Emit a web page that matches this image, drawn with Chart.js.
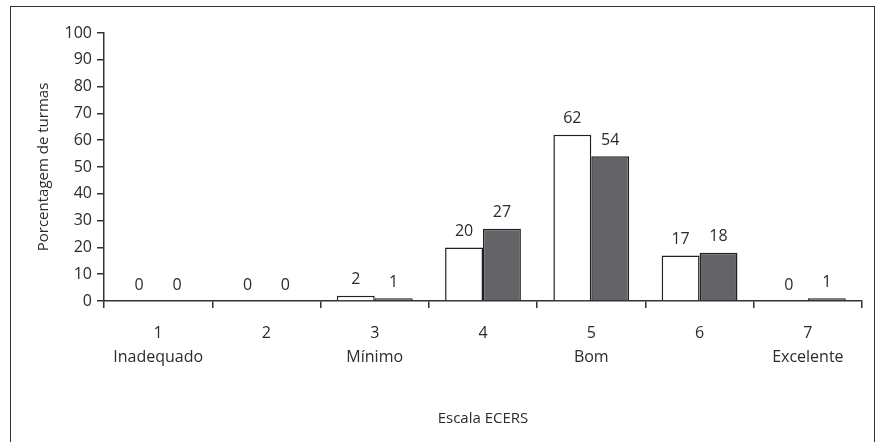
<!DOCTYPE html>
<html>
<head>
<meta charset="utf-8">
<script src="https://cdn.jsdelivr.net/npm/chart.js@4"></script>
<style>
  html, body { margin: 0; padding: 0; background: #fff; }
  #wrap { position: relative; width: 880px; height: 442px; }
  #frame {
    position: absolute; left: 10px; top: 6px; width: 865px; height: 440px;
    border: 1.5px solid #333; border-bottom: none; box-sizing: border-box;
    pointer-events: none;
  }
</style>
</head>
<body>
<div id="wrap">
  <canvas id="chart" width="880" height="442"></canvas>
  <div id="frame"></div>
</div>
<script>
// chart data
const categories = [['1', 'Inadequado'], '2', ['3', 'Mínimo'], '4', ['5', 'Bom'], '6', ['7', 'Excelente']];
const seriesWhite = [0, 0, 2, 20, 62, 17, 0];
const seriesGray = [0, 0, 1, 27, 54, 18, 1];
const yTicks = [0, 10, 20, 30, 40, 50, 60, 70, 80, 90, 100];

const FONT = '"Open Sans", "Liberation Sans", sans-serif';
const INK = '#2b2b2b';

// draw value labels above each bar
const valueLabels = {
  id: 'valueLabels',
  afterDatasetsDraw(chart) {
    const ctx = chart.ctx;
    ctx.save();
    ctx.font = '16px ' + FONT;
    ctx.fillStyle = INK;
    ctx.textAlign = 'center';
    ctx.textBaseline = 'middle';
    chart.data.datasets.forEach((ds, i) => {
      chart.getDatasetMeta(i).data.forEach((bar, j) => {
        ctx.fillText(String(ds.data[j]), bar.x, bar.y - 16);
      });
    });
    ctx.restore();
  }
};

new Chart(document.getElementById('chart'), {
  type: 'bar',
  data: {
    labels: categories,
    datasets: [
      {
        data: seriesWhite,
        backgroundColor: '#ffffff',
        borderColor: '#231f20',
        borderWidth: 1.5,
        borderSkipped: 'bottom'
      },
      {
        data: seriesGray,
        backgroundColor: '#646468',
        borderColor: '#231f20',
        borderWidth: 1.5,
        borderSkipped: 'bottom'
      }
    ]
  },
  options: {
    responsive: false,
    animation: false,
    categoryPercentage: 0.7,
    barPercentage: 1.0,
    layout: { padding: { left: 30, right: 18, top: 33, bottom: 0 } },
    plugins: {
      legend: { display: false },
      tooltip: { enabled: false }
    },
    scales: {
      x: {
        offset: true,
        grid: {
          offset: true,
          drawOnChartArea: false,
          drawTicks: true,
          tickLength: 7,
          color: '#333',
          lineWidth: 1.5
        },
        border: { display: true, color: '#333', width: 1.5 },
        ticks: {
          color: INK,
          font: { family: FONT, size: 16, lineHeight: 1.5 },
          padding: 13,
          maxRotation: 0,
          autoSkip: false
        },
        title: {
          display: true,
          text: 'Escala ECERS',
          color: INK,
          font: { family: FONT, size: 15 },
          padding: { top: 0, bottom: 14 }
        },
        afterFit(scale) { scale.height = 141; }
      },
      y: {
        min: 0,
        max: 100,
        afterBuildTicks(scale) { scale.ticks = yTicks.map(v => ({ value: v })); },
        grid: {
          drawOnChartArea: false,
          drawTicks: true,
          tickLength: 7,
          color: '#333',
          lineWidth: 1.5
        },
        border: { display: true, color: '#333', width: 1.5 },
        ticks: {
          color: INK,
          font: { family: FONT, size: 16 },
          padding: 5
        },
        title: {
          display: true,
          text: 'Porcentagem de turmas',
          color: INK,
          font: { family: FONT, size: 15 },
          padding: { top: 5, bottom: 0 }
        },
        afterFit(scale) { scale.width = 74; }
      }
    }
  },
  plugins: [valueLabels]
});
</script>
</body>
</html>
